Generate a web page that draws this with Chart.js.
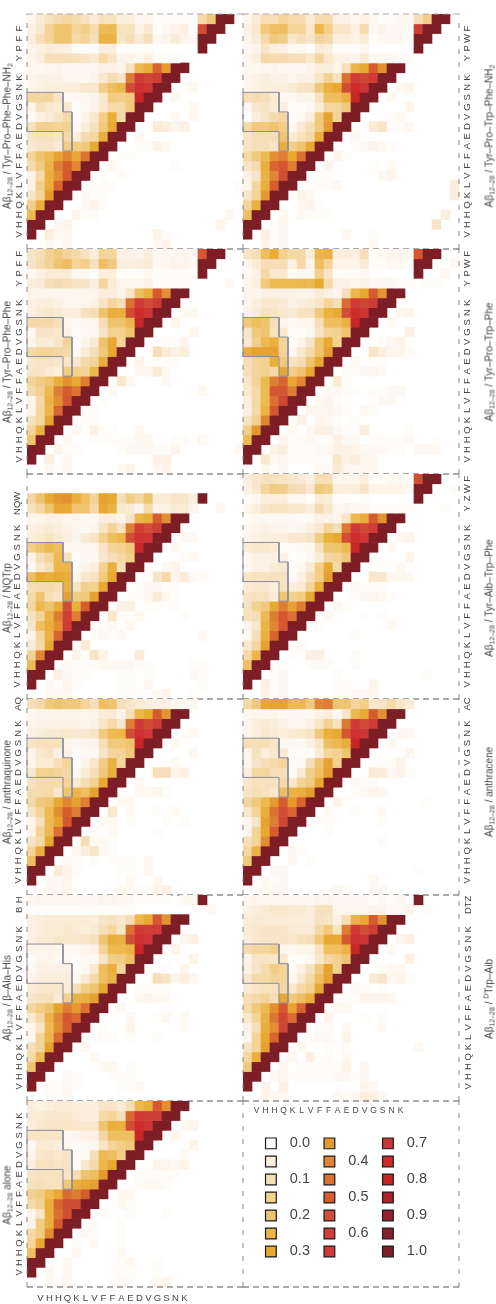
<!DOCTYPE html>
<html>
<head>
<meta charset="utf-8">
<script src="https://cdn.jsdelivr.net/npm/chart.js@4"></script>
<style>
  body { margin: 0; background: #fff; }
  #page { position: relative; width: 496px; height: 1304px; overflow: hidden; }
  canvas { position: absolute; }
  .title { position: absolute; white-space: nowrap; font: 10px "Liberation Sans", sans-serif; color: #444;
           transform: translate(-50%, -50%) rotate(-90deg); }
  .title sub { font-size: 7px; vertical-align: -2px; line-height: 0; }
  .title sup { font-size: 7px; vertical-align: 4px; line-height: 0; }
</style>
</head>
<body>
<div id="page"></div>
<script>
// residue labels, first and last column / row of each map are padding
var residues = ['V', 'H', 'H', 'Q', 'K', 'L', 'V', 'F', 'F', 'A', 'E', 'D', 'V', 'G', 'S', 'N', 'K'];
var columns = ['', ...residues, '', '', '', '', '', ''];

// contact probabilities in percent, rows listed top to bottom, missing trailing cells are 0
var alone = [
  [5,4,5,6,6,5,5,5,8,8,6,10,24,28,52,38,100,100],
  [6,6,7,7,7,6,5,5,12,14,10,47,65,60,63,100,100],
  [5,7,8,8,8,7,7,7,20,28,27,55,75,68,100,100,0,2,3],
  [8,8,8,8,2,3,4,4,13,22,22,22,78,100,100,0,3],
  [2,6,6,5,2,1,2,2,8,14,16,18,100,100,0,0,0,0,3],
  [3,7,8,7,8,1,2,10,24,22,16,100,100,0,0,0,0,2],
  [5,9,9,8,9,1,7,12,25,30,100,100,0,0,3,3,2,3],
  [8,9,9,9,8,10,20,22,35,100,100,0,1,1,1,1,1],
  [9,10,9,9,18,27,30,33,100,100,0,0,1,2,2,1],
  [15,17,24,30,47,42,50,100,100,0,2,2],
  [12,15,28,48,55,55,100,100,0,0,2,1],
  [3,8,28,45,55,100,100,0,1,0,0,1,0,0,0,1],
  [3,17,28,50,100,100,0,1,0,0,1],
  [12,17,38,100,100,0,2,1,0,0,1],
  [14,30,100,100,0,1,0,2,0,0,1],
  [22,100,100,0,0,2,0,0,0,0,2],
  [100,100,0,0,2,0,0,0,0,0,1,2,0,0,1],
  [100,0,2,0,2,0,0,0,0,0,1,1,0,0,1],
  [0,0,2,1,2,0,0,0,0,0,2,1,0,0,2,3]
];
var betaAlaHis = [
  [2,3,3,3,3,3,2,2,3,3,2,2,1,1,1,1,0,2,2,100],
  [1,1,1,1,1,1,1,1,1,1,1,1,0,0,0,0,0,0,0,0,2],
  [4,5,6,6,6,6,6,5,8,9,7,10,25,30,52,37,100,100],
  [4,5,6,6,7,6,5,6,10,13,8,45,65,62,65,100,100],
  [4,6,6,7,7,7,8,9,20,28,27,55,72,68,100,100,0,3,4],
  [3,3,3,3,2,2,3,4,14,24,24,26,78,100,100,0,3],
  [1,3,3,2,2,1,2,2,8,16,17,22,100,100,0,0,0,0,3],
  [2,4,4,4,4,1,2,7,22,28,14,100,100,0,0,1,0,3],
  [3,5,5,5,5,2,6,12,22,26,100,100,0,0,10,8,3,5,2],
  [6,7,7,7,6,10,17,20,30,100,100,0,1,1,1,1],
  [8,9,9,6,15,26,27,33,100,100,0,0,2,3,2,2],
  [13,17,20,32,42,35,45,100,100,0,2],
  [7,12,26,40,52,47,100,100,0,0,0,2,0,0,1,2,0,2],
  [3,8,24,38,50,100,100,0,1,0,0,3,0,0,0,0,0,2],
  [2,14,25,47,100,100,0,0,1,1,0,1,0,0,1],
  [10,14,33,100,100,0,2,0,0,0],
  [12,24,100,100,0,0,0,2],
  [20,100,100,0,0,0,0,0,2,2,0,1],
  [100,100,0,0,2,1,0,0,0,1,1,1],
  [100,0,1,1,2,1,0,0,0,0,1,1,2],
  [0,0,1,1,2]
];
var anthraquinone = [
  [10,12,18,20,18,18,14,10,22,20,10,8,6,5,4,4,3,2,2],
  [2,3,3,3,3,3,3,3,6,6,3,10,25,30,50,37,100,100],
  [3,4,4,4,4,4,3,4,8,12,7,42,65,55,63,100,100],
  [4,5,6,6,7,6,7,8,18,24,25,55,72,65,100,100,0,1,2],
  [8,9,9,9,3,2,3,3,10,18,18,20,78,100,100,0,2],
  [3,7,8,4,4,1,2,2,8,13,14,18,100,100,0,0,0,0,2],
  [3,6,6,10,14,1,3,7,17,27,13,100,100,0,0,0,2],
  [7,15,15,14,12,2,6,10,18,28,100,100,0,0,10,10,3,4],
  [9,11,11,11,14,6,10,15,30,100,100,0,2,0,0,0],
  [11,11,12,7,20,25,22,32,100,100,0,0,2,2,3,1],
  [12,18,20,30,40,32,42,100,100,0,2,2],
  [8,14,24,38,50,42,100,100,0,7,0,2,0,0,1,0,2],
  [3,10,24,32,52,100,100,0,2,2,0,1,0,0,0,1,0,1],
  [3,14,24,45,100,100,0,1,0,2,0,0,0,0,1],
  [8,12,30,100,100,0,10,2,2,1],
  [14,28,100,100,0,2,5,8,2,1],
  [22,100,100,0,2,1,0,1,0,1,1,1,0,2],
  [100,100,0,6,3,1,0,0,0,0,1,1,0,2],
  [100,0,2,2,3,0,0,0,0,0,0,2,0,0,2],
  [0,0,2,2,3,0,0,0,0,0,2,2,1,1,3,4]
];
var nqtrp = [
  [],
  [],
  [13,20,30,36,37,28,22,14,32,30,10,16,13,20,6,6,8,8,5,100],
  [9,13,20,30,30,20,20,12,30,26,7,6,3,12,4,4,6,6,3,0,0,2],
  [3,3,4,4,3,3,2,2,5,5,3,8,25,28,50,38,100,100],
  [4,5,6,5,4,3,2,3,8,14,9,42,62,55,62,100,100],
  [5,6,8,6,5,3,6,8,15,22,25,55,72,68,100,100,0,2,2],
  [16,20,24,22,3,2,3,3,8,14,15,18,78,100,100,0,2],
  [3,10,14,24,9,1,2,2,7,10,12,16,100,100,0,0,0,1,2],
  [2,7,10,25,25,2,3,5,15,28,10,100,100,0,0,2,3],
  [22,30,28,30,28,3,7,9,18,30,100,100,0,0,8,12,3,6,2,1],
  [10,11,11,10,26,8,15,15,30,100,100,0,1,2,2,1,1],
  [12,20,10,8,33,17,18,32,100,100,0,1,1,2,6,2,1],
  [13,24,20,28,55,28,50,100,100,0,4,4,0,1,1,0,1],
  [9,14,26,42,62,42,100,100,0,7,1,1,2,0,0,0,0,1],
  [8,22,28,38,65,100,100,0,1,2,0,2],
  [3,13,26,48,100,100,0,1,2,1,2,0,0,0,0,0,0,0,0,2],
  [6,12,30,100,100,0,6,0,0],
  [14,40,100,100,0,3,1,8,3,0,0,0,6],
  [24,100,100,0,2,1,1,1,2,2,2,2,1,1,0,0,0,0,1,1],
  [100,100,0,4,2,1,1,0,0,0,1,1,0,1,0,0,0,0,2,1],
  [100,0,2,1,3,1,0,0,0,0,1,1,0,2,0,0,0,0,0,1],
  [0,0,2,2,2,0,0,0,0,0,1,1,1,0,2,3,0,0,1]
];
var ypff = [
  [8,10,15,18,14,12,9,5,14,14,4,4,3,5,2,2,3,3,2,52,100,100],
  [8,11,15,20,22,14,16,9,22,18,5,5,5,6,2,2,3,3,2,100,100],
  [2,4,6,6,6,2,2,1,5,5,1,1,1,2,1,1,1,1,1,100],
  [5,6,10,11,10,8,8,5,14,6,3,3,3,4,1,1,1,1,0,0,0,0,2],
  [3,3,3,3,3,3,3,3,5,5,3,8,22,28,50,38,100,100],
  [4,5,5,4,3,3,3,4,8,14,10,45,65,55,65,100,100],
  [4,6,7,6,5,5,9,10,20,28,27,55,75,68,100,100,0,2,2],
  [12,12,12,10,3,2,3,3,10,20,20,25,78,100,100,0,3],
  [2,8,8,7,4,1,2,2,8,15,15,20,100,100,0,0,0,0,3],
  [3,6,6,8,14,1,3,6,20,30,14,100,100,0,0,1,1,3],
  [12,14,14,13,12,2,6,10,18,30,100,100,0,0,10,6,4,5],
  [7,8,8,7,8,7,12,14,28,100,100,0,3,0,1,1,1],
  [8,8,6,5,17,15,14,25,100,100,0,0,2,3,6,2],
  [14,17,20,28,37,30,42,100,100,0,7,2,0,0,0,2],
  [11,15,24,42,50,44,100,100,0,2,0,0,0,0,0,0,0,0,0,2],
  [3,12,26,38,52,100,100,0,1,0,0,0],
  [3,13,25,48,100,100,1,1,0,0,0],
  [9,13,32,100,100,0,1,1,0,0],
  [14,26,100,100,0,2,0,4,1,1,0,0,2],
  [20,100,100,0,2,0,0,1,1,1,1,1,2,2,0,0,1,1,0,2],
  [100,100,0,3,1,1,0,0,0,0,1,2,2,2,1,1,3,0,0,0,0,0,0,2],
  [100,0,4,0,2,0,0,0,0,0,0,0,0,0,4,4],
  [0,0,2,1,2,0,0,0,0,0,2,3,0,0,2,3]
];
var ypffNh2 = [
  [3,6,9,11,13,11,9,6,9,9,5,5,2,3,1,1,1,1,1,12,18,100,100],
  [4,7,15,20,20,14,16,11,23,24,9,9,4,7,1,2,3,4,1,55,100,100],
  [5,10,14,20,20,12,14,10,26,26,8,10,6,10,2,3,6,3,2,100,100],
  [3,4,6,5,4,1,1,1,5,5,1,1,1,1,0,0,0,0,0,100],
  [3,5,10,10,10,9,8,6,12,8,3,3,2,4,1,1,1],
  [2,2,3,3,2,2,2,2,4,4,3,9,24,28,48,35,100,100],
  [3,4,4,4,3,3,2,3,7,11,8,42,65,58,62,100,100],
  [3,4,5,5,5,5,7,7,16,22,25,55,72,68,100,100,0,1,2],
  [13,13,13,8,2,2,2,3,7,17,16,18,78,100,100,0,2],
  [3,9,7,6,7,1,2,3,7,12,12,18,100,100,0,0,0,0,2],
  [2,4,6,8,12,1,3,7,16,28,12,100,100,0,0,0,2,0,2],
  [9,15,15,14,15,2,5,9,18,30,100,100,0,0,6,5,3,4],
  [8,9,9,8,12,5,11,13,28,100,100,0,2],
  [7,8,8,6,17,17,18,30,100,100,0,0,1,1,3,2],
  [14,20,24,32,40,30,44,100,100,0,1,1],
  [11,17,26,42,50,40,100,100,0,2,0,0,0,0,0,0,1],
  [4,12,28,38,52,100,100,0,1,0,1],
  [4,16,28,48,100,100,0,1,1,1,0,0,0,0,0,0,0,0,0,0,0,0,0,1],
  [8,14,35,100,100,0,2,1,1],
  [16,28,100,100,0,0,2,3,1],
  [24,100,100,0,0,3,1,1,0,0,0,0,0,0,0,0,0,0,0,0,0,0,2],
  [100,100,0,2,3,0,0,0,0,0,0,0,0,0,0,0,0,0,0,0,0,3],
  [100,0,5,2,2,0,0,0,0,0,0,0,0,0,3,1],
  [0,0,2,1,2,0,0,0,0,0,0,0,0,0,2,3]
];
var dTrpAib = [
  [2,3,3,3,3,3,2,2,3,3,2,2,2,2,1,2,1,2,0,100],
  [4,5,6,7,7,6,6,5,9,9,3,3,3,3,3,3,2,2,3,0,1],
  [5,6,6,6,6,5,5,5,9,8,4,10,26,30,50,37,100,100],
  [6,7,8,8,8,6,6,6,12,18,9,42,65,55,62,100,100],
  [5,7,8,8,8,7,9,10,18,30,30,52,72,70,100,100,0,3,4],
  [11,13,13,15,3,2,3,3,9,22,22,26,78,100,100,0,2],
  [3,8,8,8,7,1,1,2,7,13,15,20,100,100,0,0,0,0,4],
  [4,8,11,16,14,1,4,9,18,32,15,100,100,0,0,1,2,2],
  [7,12,12,14,14,2,7,12,22,33,100,100,0,0,6,8,2,3,1],
  [6,8,9,9,12,7,12,15,30,100,100,0,2,1,0,1],
  [10,12,14,10,30,18,22,28,100,100,0,1,1,3,3,3,2],
  [12,18,24,38,52,32,48,100,100,0,2,2],
  [7,14,26,44,58,46,100,100,0,3,0,0,0,1,0,1],
  [4,10,28,38,58,100,100,0,1,1,0,2,0,0,0,2],
  [3,14,30,48,100,100,0,1,2,2,0,3],
  [8,14,33,100,100,0,2,0,0,1,0,1,0,0,0,0,0,0,0,2],
  [13,28,100,100,0,2,0,4,1,1,0,2],
  [18,100,100,0,2,0,1,1,1,1,1,3,0,2],
  [100,100,0,2,3,1,1,1,1,1,2,2,1,2],
  [100,0,3,0,4,0,0,0,0,0,0,0,0,3,2],
  [0,0,3,2,2,0,0,0,0,0,2,1,2,5,4,2]
];
var anthracene = [
  [12,18,30,32,32,24,24,18,40,42,20,20,14,16,7,8,12,8,6],
  [2,3,3,3,2,2,2,2,4,5,2,8,24,30,50,38,100,100],
  [3,5,6,5,4,3,3,4,8,15,9,43,65,55,63,100,100],
  [3,5,7,6,5,6,7,8,18,28,30,52,72,70,100,100,0,2,2],
  [10,10,10,8,2,2,2,4,8,22,24,28,78,100,100,0,2],
  [3,9,5,7,7,1,1,1,6,14,15,20,100,100,0,0,0,0,3],
  [3,8,10,12,14,1,2,10,20,32,15,100,100,0,0,1,1,3],
  [5,13,13,10,10,1,6,16,22,34,100,100,0,0,6,6,2,3,1],
  [7,9,9,9,12,7,14,17,30,100,100,0,2,1,1],
  [8,10,9,7,22,26,28,33,100,100,0,0,1,2,3,2],
  [13,18,24,35,50,35,48,100,100,0,3,1,0,0,0,0,0,0,0,0,1],
  [7,14,28,45,55,48,100,100,0,2,0,0,1,0,0,2],
  [3,8,32,42,58,100,100,0,1,1,0,0,0,0,0,1],
  [3,14,30,50,100,100,0,0,0,1],
  [10,14,38,100,100,0,0,0,0,0,0,0,0,0,0,1],
  [13,26,100,100,0,2,1],
  [18,100,100,0,0,2,0,1],
  [100,100,0,2,2,0,0,0,0,0,0,0,0,0,0,0,0,0,0,1],
  [100,0,2,1,2,0,0,0,0,0,0,0,0,0,2],
  [0,0,2,2,2,0,0,0,0,0,2,1,0,0,2,2]
];
var yzwf = [
  [5,7,9,9,8,7,6,4,10,10,3,3,3,5,1,1,2,2,1,55,100,100],
  [4,7,13,17,16,11,10,7,18,16,5,5,5,8,3,3,3,3,2,100,100,0,0,1],
  [1,2,5,5,5,2,2,1,6,5,1,0,0,1,0,0,0,0,0,100],
  [3,5,8,9,9,7,7,5,11,7,3,3,2,3,1,1,1,1,1,0,0,0,1],
  [1,2,2,2,2,2,1,2,4,4,3,8,24,29,50,37,100,100],
  [2,3,4,3,3,2,3,4,7,14,10,43,65,57,62,100,100],
  [3,4,5,5,5,7,7,8,17,27,30,55,75,68,100,100,0,2,3],
  [6,7,7,6,1,1,2,2,9,20,20,24,78,100,100,0,2],
  [2,4,4,4,4,0,1,2,6,13,14,19,100,100,0,0,0,0,3],
  [2,4,4,6,7,1,2,6,16,30,12,100,100,0,0,1,0,2],
  [8,9,9,9,9,1,4,10,16,33,100,100,0,0,7,7,2,2,2],
  [6,7,7,5,9,5,6,14,28,100,100,0,2,1,1,1],
  [8,9,9,6,20,15,17,30,100,100,0,0,1,2,3,2,1],
  [9,15,18,30,42,32,42,100,100,0,2,1],
  [9,10,24,42,52,45,100,100,0,2,0,0,0,1,0,1],
  [3,7,26,40,52,100,100,0,1,0,0,0,0,0,0,0,2],
  [2,10,27,48,100,100,0,0,0,0,0,0,1],
  [7,13,33,100,100,0,1],
  [12,25,100,100,0,1,0,4,4,0,0,0,1],
  [22,100,100,0,1,0,0,1,1,1,0,0,1],
  [100,100,0,1,2,0,0,0,0,0,1,0,0,0,0,0,0,0,0,0,1],
  [100,0,4,1,2,0,0,0,0,0,1,1,0,0,3],
  [0,0,3,1,2,0,0,0,0,0,1,1,2,2,3]
];
var ypwf = [
  [8,10,22,28,15,12,12,5,25,26,5,5,4,10,1,2,3,3,2,52,100,100],
  [3,6,10,10,10,4,12,3,22,14,3,3,3,6,1,1,2,2,1,100,100,0,0,2],
  [2,4,12,7,7,1,2,2,16,8,1,1,1,2,0,0,0,0,0,100,0,0,2],
  [3,5,18,24,24,24,25,24,30,12,4,4,3,4,2,2,2,1,1,0,1,1],
  [3,3,4,4,4,4,3,3,6,4,3,10,25,30,50,37,100,100],
  [3,5,7,7,6,4,5,6,8,14,10,46,65,58,63,100,100],
  [4,6,9,8,7,6,9,9,18,27,30,55,75,70,100,100,0,2,3],
  [18,22,20,10,3,2,3,3,10,22,22,27,78,100,100,0,2],
  [8,18,20,9,7,1,1,2,8,14,15,20,100,100,0,0,0,0,4],
  [7,16,24,28,14,1,3,8,20,30,15,100,100,0,0,1,2,3],
  [28,32,32,32,14,2,7,12,20,34,100,100,0,0,8,5,3,3,1],
  [10,14,15,28,18,9,10,20,30,100,100,0,2,0,1,1],
  [10,14,15,12,30,16,20,30,100,100,0,1,1,2,3,2],
  [8,14,24,42,48,30,40,100,100,0,6,1],
  [7,12,24,52,52,42,100,100,0,2,2,1,1,0,1,1,2,2],
  [5,12,24,45,58,100,100,0,2,3,1,0,0,0,0,2,2],
  [4,12,26,52,100,100,0,3,3,3,2,1,0,2,1],
  [9,15,40,100,100,0,4,0,3,2,1,0,1],
  [16,36,100,100,0,2,0,2,4,4,2,1,1,5,0,0,0,0,1],
  [24,100,100,0,3,1,1,2,1,1,4,2,2,0,1,1,1,1,2,0,0,1],
  [100,100,0,4,5,1,1,1,2,2,4,4,3,2,2,2,1,1,0,2,2,2],
  [100,0,7,2,3,1,1,1,1,1,8,4,5,3,2],
  [0,0,2,1,2,0,0,0,2,2,6,3,2,3,2]
];
var ypwfNh2 = [
  [3,6,10,10,14,12,11,6,11,11,4,4,2,4,2,1,1,2,2,10,16,100,100],
  [4,7,18,22,22,14,14,7,25,16,8,8,4,11,2,3,2,2,1,60,100,100],
  [3,6,12,18,16,7,10,8,14,12,5,5,4,6,1,2,2,2,1,100,100],
  [2,3,8,5,4,2,2,1,6,5,1,1,1,2,0,0,0,0,0,100],
  [3,5,12,11,11,10,10,7,13,7,4,4,3,6,2,2,2,1,1],
  [2,2,3,3,2,2,2,3,5,5,3,10,25,30,50,37,100,100],
  [3,4,5,4,4,3,4,4,8,15,9,45,65,58,65,100,100],
  [3,4,5,5,5,6,8,9,18,27,30,55,75,70,100,100,0,2,3],
  [10,11,10,6,2,2,3,3,9,22,22,27,78,100,100,0,2],
  [2,7,8,6,5,1,1,2,6,13,13,18,100,100,0,0,0,0,3],
  [1,5,8,11,13,1,2,5,18,32,14,100,100,0,0,0,1,2],
  [12,18,18,20,16,2,6,10,18,35,100,100,0,0,6,8,1,1,2],
  [8,10,10,10,20,6,9,12,28,100,100,0,2],
  [9,10,10,8,28,16,20,30,100,100,0,0,1,2,3,2,1],
  [12,18,24,38,42,30,45,100,100,0,3,1],
  [8,11,28,48,52,42,100,100,0,3,0,0,0,0,1,0,2],
  [4,8,26,40,55,100,100,0,1,1,0,0,0,0,0,2,3],
  [3,13,28,50,100,100,0,1,1,1,2,0,0,0,0,0,0,0,0,0,0,0,0,5],
  [8,14,35,100,100,0,3,2,0,0,0,0,0,0,0,0,0,0,0,0,0,0,0,5],
  [14,27,100,100,0,0,2,3,1],
  [22,100,100,0,2,0,2,1,1,1,0,0,0,0,0,0,0,0,0,0,0,0,5],
  [100,100,0,1,2,0,0,0,0,0,0,0,0,0,0,0,0,0,0,0,0,8],
  [100,0,4,1,2,0,0,0,0,0,0,2,0,0,1],
  [0,0,3,1,2,0,0,0,0,0,0,0,0,0,2]
];

// colour legend
var legendValues = [0, 5, 10, 15, 20, 25, 30, 35, 40, 45, 50, 55, 60, 65, 70, 75, 80, 85, 90, 95, 100];
var legendLabels = ['0.0', '', '0.1', '', '0.2', '', '0.3', '', '0.4', '', '0.5', '', '0.6', '', '0.7', '', '0.8', '', '0.9', '', '1.0'];
var palette = ['#ffffff', '#fbeedd', '#f6dfb8', '#f3d190', '#efc46f', '#ecb64a', '#e8a933', '#e59a30',
  '#e08634', '#dc7033', '#d65c30', '#d04e35', '#cd4037', '#cf3a38', '#cd3535', '#cf2b2b',
  '#c42428', '#ac2128', '#97202a', '#88202a', '#7d1e27'];

var font = '"Liberation Sans", sans-serif';
var dashColor = '#555';
var sideDashColor = '#888';

function cellColor(v) {
  var pos = v / 5;
  var i = Math.min(Math.floor(pos), palette.length - 2);
  var f = pos - i;
  var mix = [1, 3, 5].map(function(k) {
    var a = parseInt(palette[i].substr(k, 2), 16);
    var b = parseInt(palette[i + 1].substr(k, 2), 16);
    return Math.round(a + (b - a) * f);
  });
  return 'rgb(' + mix.join(',') + ')';
}

function dashLine(points, color, dash) {
  return {
    type: 'line', xAxisID: 'xe', data: points, borderColor: color, borderWidth: 1,
    borderDash: dash, pointRadius: 0, fill: false, clip: false, order: -1
  };
}

// only the top row of panels draws its upper edge, the rest share it with the panel above
function frame(nRows, col, topColor) {
  var sets = [
    dashLine([{x: 0, y: 0}, {x: 24, y: 0}], dashColor, [6, 4]),
    dashLine([{x: 0, y: 0}, {x: 0, y: nRows}], sideDashColor, [5, 8])
  ];
  if (topColor) sets.push(dashLine([{x: 0, y: nRows}, {x: 24, y: nRows}], topColor, [6, 4]));
  if (col == 1) sets.push(dashLine([{x: 24, y: 0}, {x: 24, y: nRows}], sideDashColor, [5, 8]));
  return sets;
}

function rowDatasets(rows) {
  return rows.map(function(row, idx) {
    var r = rows.length - 1 - idx;
    return {
      data: columns.map(function(_, c) { return row[c] ? [r, r + 1] : null; }),
      backgroundColor: columns.map(function(_, c) { return cellColor(row[c] || 0); }),
      borderWidth: 0
    };
  });
}

// the rotated labels and edge labels must not eat into the cell grid
function noScalePadding(s) {
  s.paddingTop = 0; s.paddingBottom = 0; s.paddingLeft = 0; s.paddingRight = 0;
}

function baseOptions(col, nRows, tickMap, pad, xOpts, padding) {
  return {
    responsive: false,
    animation: false,
    layout: { autoPadding: false, padding: padding },
    datasets: { bar: { grouped: false, barPercentage: 1, categoryPercentage: 1 } },
    plugins: { legend: { display: false }, tooltip: { enabled: false } },
    scales: {
      x: xOpts,
      xe: { type: 'linear', min: 0, max: 24, display: false, offset: false },
      y: {
        type: 'linear', min: 0, max: nRows,
        position: col == 0 ? 'left' : 'right',
        grid: { display: false, drawTicks: false },
        border: { display: false },
        afterFit: function(s) { noScalePadding(s); s.width = col == 0 ? 27 : 37; },
        afterBuildTicks: function(s) {
          s.ticks = Object.keys(tickMap).map(function(v) { return { value: Number(v) }; });
        },
        ticks: {
          autoSkip: false, minRotation: 90, maxRotation: 90, crossAlign: 'center', padding: pad,
          color: '#444', font: { family: font, size: 9.5 },
          callback: function(v) { return tickMap[v]; }
        }
      }
    }
  };
}

function hiddenX() {
  return { type: 'category', labels: columns, display: false, offset: true, grid: { display: false } };
}

function residueTicks(ligand, start) {
  var map = {};
  residues.forEach(function(name, i) { map[i + 1.5] = name; });
  ligand.forEach(function(name, i) { map[start + i] = name; });
  return map;
}

function addCanvas(left, top, w, h) {
  var c = document.createElement('canvas');
  c.width = w; c.height = h;
  c.style.left = left + 'px'; c.style.top = top + 'px';
  document.getElementById('page').appendChild(c);
  return c;
}

function addTitle(html, x, y) {
  var d = document.createElement('div');
  d.className = 'title';
  d.innerHTML = html;
  d.style.left = x + 'px'; d.style.top = y + 'px';
  document.getElementById('page').appendChild(d);
}

function drawPanel(p) {
  var n = p.rows.length;
  var left = p.col == 0 ? 0 : 240;
  var width = p.col == 0 ? 246 : 256;
  var extra = p.xTicks ? 17 : 3;
  var canvas = addCanvas(left, p.top - 3, width, p.bottom - p.top + 3 + extra);
  var xOpts = hiddenX();
  if (p.xTicks) {
    xOpts = {
      type: 'category', labels: columns, offset: true, position: 'bottom',
      grid: { display: false, drawTicks: false }, border: { display: false },
      afterFit: function(s) { noScalePadding(s); s.height = 17; },
      ticks: { autoSkip: false, maxRotation: 0, padding: 6, color: '#444', font: { family: font, size: 9.5 } }
    };
  }
  var outline = {
    type: 'line', xAxisID: 'xe', data: regionOutline, borderColor: '#8a8c9c', borderWidth: 1,
    pointRadius: 0, fill: false, clip: false, order: -1
  };
  new Chart(canvas, {
    type: 'bar',
    data: {
      labels: columns,
      datasets: rowDatasets(p.rows).concat(frame(n, p.col, p.topColor), [outline])
    },
    options: baseOptions(p.col, n, residueTicks(p.ligand, p.ligandStart), p.pad,
      xOpts, { top: 3, bottom: p.xTicks ? 0 : 3, left: p.col == 0 ? 0 : 3, right: p.col == 0 ? 3 : 0 })
  });
  addTitle(p.title, p.col == 0 ? 7 : 489, p.titleY);
}

// central hydrophobic / turn region box in cell units
var regionOutline = [
  {x: 0, y: 16}, {x: 4, y: 16}, {x: 4, y: 14}, {x: 5, y: 14}, {x: 5, y: 10},
  {x: 4, y: 10}, {x: 4, y: 12}, {x: 0, y: 12}, {x: 0, y: 16}
];

var pep = 'Aβ<sub>12–28</sub> / ';

var panels = [
  { rows: ypffNh2, col: 0, top: 14, bottom: 249, ligand: ['Y', 'P', 'F', 'F'], ligandStart: 19.5, pad: 4, topColor: '#aaa',
    title: pep + 'Tyr–Pro–Phe–Phe–NH<sub>2</sub>', titleY: 136 },
  { rows: ypff, col: 0, top: 249, bottom: 474, ligand: ['Y', 'P', 'F', 'F'], ligandStart: 19.5, pad: 4,
    title: pep + 'Tyr–Pro–Phe–Phe', titleY: 362 },
  { rows: nqtrp, col: 0, top: 474, bottom: 699, ligand: ['NQW'], ligandStart: 20, pad: -2,
    title: pep + 'NQTrp', titleY: 598 },
  { rows: anthraquinone, col: 0, top: 699, bottom: 895, ligand: ['AQ'], ligandStart: 19.5, pad: 2,
    title: pep + 'anthraquinone', titleY: 792 },
  { rows: betaAlaHis, col: 0, top: 895, bottom: 1101, ligand: ['B', 'H'], ligandStart: 19.5, pad: 4,
    title: pep + 'β–Ala–His', titleY: 998 },
  { rows: alone, col: 0, top: 1101, bottom: 1287, ligand: [], ligandStart: 19.5, pad: 4, xTicks: true,
    title: 'Aβ<sub>12–28</sub> alone', titleY: 1195 },
  { rows: ypwfNh2, col: 1, top: 14, bottom: 249, ligand: ['Y', 'P', 'W', 'F'], ligandStart: 19.5, pad: 4, topColor: '#aaa',
    title: pep + 'Tyr–Pro–Trp–Phe–NH<sub>2</sub>', titleY: 136 },
  { rows: ypwf, col: 1, top: 249, bottom: 474, ligand: ['Y', 'P', 'W', 'F'], ligandStart: 19.5, pad: 4,
    title: pep + 'Tyr–Pro–Trp–Phe', titleY: 362 },
  { rows: yzwf, col: 1, top: 474, bottom: 699, ligand: ['Y', 'Z', 'W', 'F'], ligandStart: 19.5, pad: 4,
    title: pep + 'Tyr–Aib–Trp–Phe', titleY: 598 },
  { rows: anthracene, col: 1, top: 699, bottom: 895, ligand: ['AC'], ligandStart: 19.5, pad: 2,
    title: pep + 'anthracene', titleY: 792 },
  { rows: dTrpAib, col: 1, top: 895, bottom: 1101, ligand: ['DTZ'], ligandStart: 20, pad: 0,
    title: pep + '<sup>D</sup>Trp–Aib', titleY: 999 }
];
panels.forEach(drawPanel);

// legend panel, swatches are points placed on the cell grid
var swatches = legendValues.map(function(v, i) {
  return { x: 3.1 + 6.5 * Math.floor(i / 7), y: 14.67 - 1.84 * (i % 7) };
});

var legendTextPlugin = {
  id: 'legendText',
  afterDatasetsDraw: function(chart) {
    var ctx = chart.ctx;
    var xe = chart.scales.xe, y = chart.scales.y;
    ctx.save();
    ctx.fillStyle = '#444';
    ctx.textBaseline = 'middle';
    ctx.font = '14.5px ' + font;
    legendLabels.forEach(function(label, i) {
      ctx.fillText(label, xe.getPixelForValue(swatches[i].x + 2.1), y.getPixelForValue(swatches[i].y));
    });
    ctx.font = '8.5px ' + font;
    ctx.textAlign = 'center';
    residues.forEach(function(name, i) {
      ctx.fillText(name, xe.getPixelForValue(i + 1.5), y.getPixelForValue(18.05));
    });
    ctx.restore();
  }
};

new Chart(addCanvas(240, 1098, 256, 192), {
  type: 'bar',
  data: {
    labels: columns,
    datasets: frame(19, 1).concat([{
      type: 'line', xAxisID: 'xe', data: swatches, showLine: false, pointStyle: 'rect',
      pointRadius: 7.6, pointBackgroundColor: legendValues.map(cellColor),
      pointBorderColor: '#1a1a1a', pointBorderWidth: 1.2, clip: false, order: -1
    }])
  },
  options: baseOptions(1, 19, {}, 4, hiddenX(), { top: 3, bottom: 3, left: 3, right: 0 }),
  plugins: [legendTextPlugin]
});
</script>
</body>
</html>
